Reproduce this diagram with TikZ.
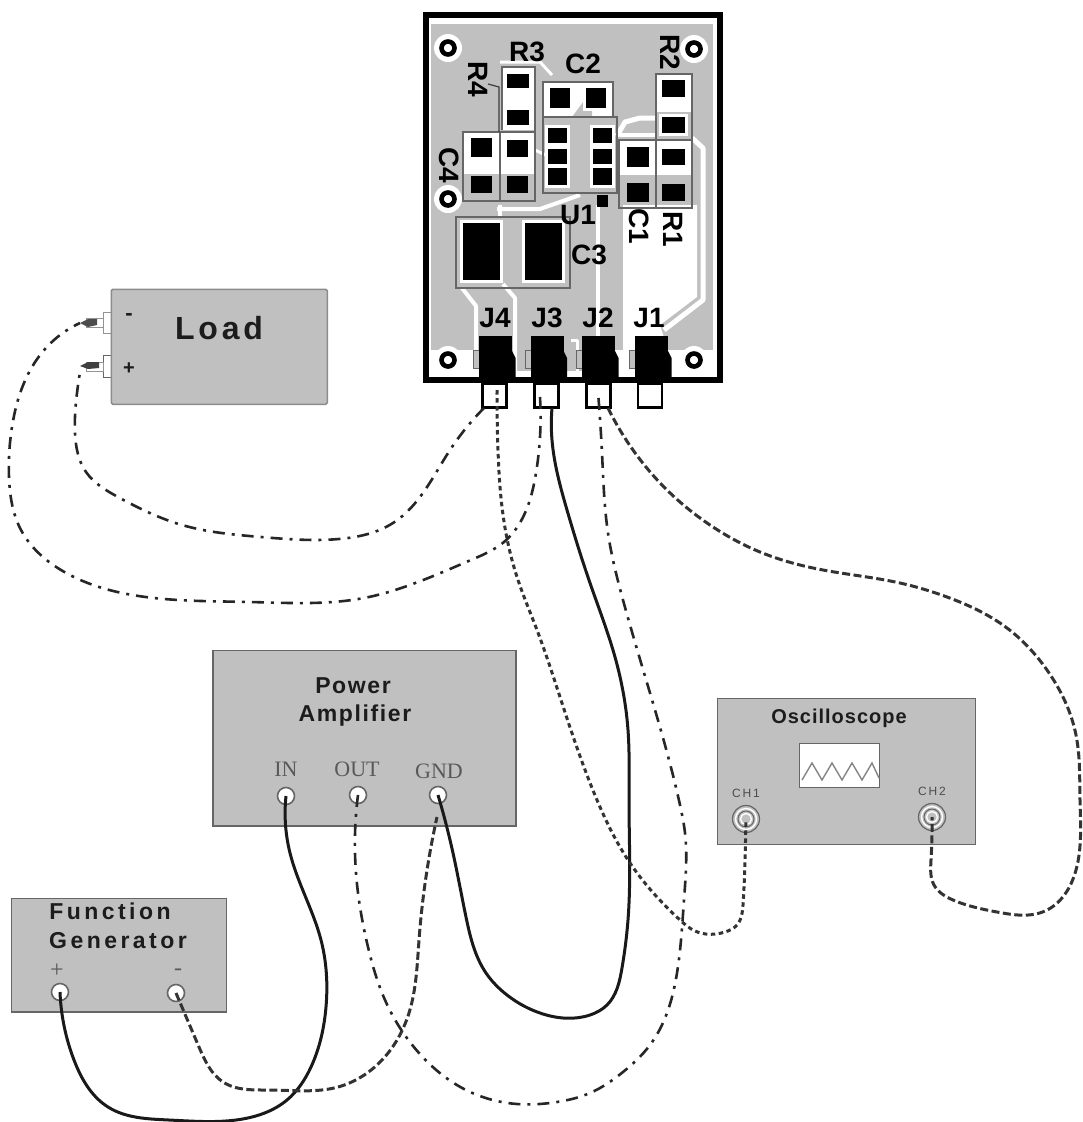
\documentclass[tikz,border=0pt]{standalone}
\usepackage{fontspec}
\usetikzlibrary{hobby}
\setmainfont{Liberation Sans}
\newfontfamily\serifl{Liberation Serif}
\newfontfamily\spaceA[LetterSpace=12]{Liberation Sans}
\newfontfamily\spaceB[LetterSpace=7]{Liberation Sans}
\newfontfamily\spaceC[LetterSpace=15]{Liberation Sans}
\newfontfamily\spaceD[LetterSpace=5]{Liberation Sans}
\newcommand{\fsz}[1]{\fontsize{#1}{#1}\selectfont}
\definecolor{panel}{HTML}{C0C0C0}
\definecolor{edge}{HTML}{666666}
\definecolor{ink}{HTML}{1C1C1C}
\newcommand{\mypad}[4]{\fill[white] (#1-3,#3-3) rectangle (#2+3,#4+3); \fill[black] (#1,#3) rectangle (#2,#4);}
\newcommand{\barepad}[4]{\fill[black] (#1,#3) rectangle (#2,#4);}
\tikzset{
  panelbox/.style={draw=edge,fill=panel,line width=1.6pt,inner sep=0pt,anchor=north west},
  jackdot/.style={circle,draw=edge,fill=white,line width=1.6pt,minimum size=17pt,inner sep=0pt},
  scopejack/.style={circle,draw=edge,fill=panel,line width=1.2pt,minimum size=27pt,inner sep=0pt},
  plugbox/.style={draw=black,fill=white,line width=2.2pt,minimum width=24pt,minimum height=24pt,inner sep=0pt},
  bodybox/.style={fill=black,minimum width=33pt,minimum height=46pt,inner sep=0pt},
  outline/.style={draw=edge,line width=1.3pt},
  trace/.style={draw=white,line width=5pt,line join=round},
  silk/.style={font=\fsz{28}\bfseries,text=black,inner sep=0pt},
  title/.style={text=ink,inner sep=0pt,align=center},
  serifport/.style={font=\serifl\fsz{22},text=black!65,inner sep=0pt},
  solidwire/.style={draw=black!90,line width=3pt,use Hobby shortcut},
  dashwire/.style={draw=black!80,line width=3pt,dash pattern=on 8pt off 3.5pt,use Hobby shortcut},
  dotwire/.style={draw=black!80,line width=3pt,dash pattern=on 4.5pt off 3.5pt,use Hobby shortcut},
  dashdot/.style={draw=black!85,line width=2.6pt,dash pattern=on 12pt off 7pt on 3pt off 7pt,use Hobby shortcut},
}
\begin{document}
\begin{tikzpicture}[x=1pt,y=-1pt]
\useasboundingbox (0,0) rectangle (1082,1122);
% ---------- board ----------
\fill[white] (424,13) rectangle (721,381);
\fill[panel] (431,22) rectangle (714,350);
\fill[panel] (512,350) rectangle (582,371);
\draw[trace,line width=3pt] (431,22) -- (714,22) -- (714,371);
% large white copper region
\fill[white] (623,205) -- (697,205) -- (697,297) -- (660,325) -- (668,350) -- (623,350) -- cycle;
\draw[trace,line width=4pt] (598,205) -- (598,340);
\draw[trace] (617,136) -- (625,122) -- (640,118) -- (656,118);
\draw[trace] (692,138) -- (703,148) -- (703,300) -- (664,330);
\draw[trace,line width=4pt] (620,135) -- (656,135);
\draw[trace,line width=4pt] (462,288) -- (476,306) -- (476,350);
\draw[trace,line width=4pt] (503,284) -- (515,298) -- (515,375);
\draw[trace,line width=3pt] (571,340) -- (577,340) -- (577,375);
\draw[trace,line width=4pt] (500,205) -- (500,217);
\draw[trace,line width=4pt] (497,209) -- (540,209) -- (580,195);
\draw[trace,line width=3pt] (535,150) -- (548,156);
\draw[trace,line width=3pt] (500,62) -- (540,62) -- (552,75);
% mounting hole halos
\foreach \hx/\hy in {448/48,694/49,448/199,448/360,694/360}{
  \fill[white] (\hx,\hy) circle[radius=14pt];
}
% component areas
\fill[white] (502,67) rectangle (535,130);
\fill[white] (543,82) rectangle (613,117);
\fill[panel] (572,117) -- (592,90) -- (592,117) -- cycle;
\fill[white] (463,132) rectangle (535,174);
\fill[white] (656,74) rectangle (692,112);
\fill[white] (619,140) rectangle (692,175);
% outlines
\draw[outline] (502,130) -- (502,67) -- (535,67) -- (535,201);
\draw[outline] (463,132) rectangle (500,201);
\draw[outline] (500,132) rectangle (535,201);
\draw[outline] (543,117) -- (543,82) -- (613,82) -- (613,117);
\draw[outline] (543,117) rectangle (617,193);
\draw[outline] (656,74) rectangle (692,140);
\draw[outline] (619,140) rectangle (656,208);
\draw[outline] (656,140) rectangle (692,208);
\draw[outline] (456,217) rectangle (570,288);
% leader for R4
\draw[line width=1.2pt,edge!60!black] (488,84) -- (499,87) -- (499,132);
% pads
\mypad{507}{529}{74}{88}
\mypad{507}{529}{110}{125}
\mypad{550}{570}{88}{108}
\mypad{586}{606}{88}{108}
\mypad{548}{567}{128}{143}
\mypad{548}{567}{149}{164}
\mypad{548}{567}{168}{185}
\mypad{593}{612}{128}{143}
\mypad{593}{612}{149}{164}
\mypad{593}{612}{168}{185}
\barepad{597}{608}{195}{207}
\mypad{471}{492}{138}{157}
\barepad{471}{492}{176}{193}
\mypad{507}{528}{140}{157}
\barepad{507}{528}{176}{193}
\mypad{662}{685}{80}{97}
\mypad{662}{685}{117}{133}
\mypad{662}{685}{149}{165}
\barepad{662}{685}{184}{201}
\mypad{627}{649}{147}{167}
\barepad{627}{649}{183}{202}
\mypad{463}{500}{223}{280}
\mypad{525}{562}{223}{280}
% mounting holes
\foreach \hx/\hy in {448/48,694/49,448/199,448/360,694/360}{
  \draw[black,line width=4.6pt,fill=white] (\hx,\hy) circle[radius=6.5pt];
}
% silk labels
\node[silk] (lR3) at (527,52) {R3};
\node[silk] (lC2) at (583,64) {C2};
\node[silk,rotate=-90] (lR2) at (670,52) {R2};
\node[silk,rotate=-90] (lR4) at (478,79) {R4};
\node[silk,rotate=-90] (lC4) at (449,165) {C4};
\node[silk] (lU1) at (578,215) {U1};
\node[silk,rotate=-90] (lC1) at (639,226) {C1};
\node[silk,rotate=-90] (lR1) at (673,229) {R1};
\node[silk] (lC3) at (589,255) {C3};
\node[silk] (lJ4) at (495,318) {J4};
\node[silk] (lJ3) at (547,318) {J3};
\node[silk] (lJ2) at (598,318) {J2};
\node[silk] (lJ1) at (649,318) {J1};
% board border
\draw[black,line width=5.5pt] (426,15) rectangle (720,380);
% connectors
\foreach \cx/\nm in {495.5/J4,547/J3,598.5/J2,651.5/J1}{
  \fill[panel,draw=edge,line width=1pt] (\cx-22,350) rectangle (\cx-16,368);
  \node[bodybox] (\nm b) at (\cx,359) {};
  \fill[black] (\cx+16,350) -- (\cx+20,358) -- (\cx+20,378) -- (\cx-16,378) -- cycle;
}
\node[plugbox] (J4p) at (494.5,395.5) {};
\node[plugbox] (J3p) at (546.5,395.5) {};
\node[plugbox] (J2p) at (598.5,395.5) {};
\node[plugbox] (J1p) at (650,395.5) {};
% ---------- load ----------
\fill[white,draw=edge!70,line width=1pt] (103,312) rectangle (112,333);
\fill[white,draw=edge,line width=1pt] (103,355) rectangle (112,377);
\node[panelbox,draw=black!45,rounded corners=1.5pt,minimum width=216pt,minimum height=115pt] (load) at (110.5,288.5) {};
\fill[white,draw=edge!70,line width=.6pt] (86,318) rectangle (103,327);
\fill[white,draw=edge!70,line width=.6pt] (86,362) rectangle (103,371);
\fill[black!70] (88,319) -- (80,323) -- (88,327) -- (97,325) -- (97,319) -- cycle;
\fill[black!75] (88,362) -- (80,366) -- (88,369) -- (99,368) -- (99,362) -- cycle;
\coordinate (pinM) at (80,323);
\coordinate (pinP) at (80,372);
\node[title,font=\spaceA\fsz{32}\bfseries] (loadt) at (219,328) {Load};
\node[title,font=\fsz{22}\bfseries] (loadm) at (129,317) {-};
\node[title,font=\fsz{20}\bfseries] (loadp) at (129,369) {+};
% ---------- amplifier ----------
\node[panelbox,minimum width=303pt,minimum height=175.5pt] (amp) at (212,649.5) {};
\node[title,font=\spaceB\fsz{23}\bfseries] (ampa) at (353,686) {Power};
\node[title,font=\spaceB\fsz{23}\bfseries] (ampb) at (355,716) {Amplifier};
\node[serifport] (tIN) at (286,769) {IN};
\node[serifport] (tOUT) at (357,769) {OUT};
\node[serifport] (tGND) at (439,771) {GND};
\node[jackdot] (IN) at (286,796) {};
\node[jackdot] (OUT) at (358,795) {};
\node[jackdot] (GND) at (438,795) {};
% ---------- function generator ----------
\node[panelbox,minimum width=215pt,minimum height=113.5pt] (fg) at (10.5,897.5) {};
\node[title,font=\spaceC\fsz{23}\bfseries] (fga) at (110,911) {Function};
\node[title,font=\spaceC\fsz{23}\bfseries] (fgb) at (118,941) {Generator};
\node[serifport,font=\serifl\fsz{24}] (tP) at (57,971) {+};
\node[serifport,font=\serifl\fsz{24}] (tM) at (178,972) {-};
\node[jackdot] (FGP) at (60,992) {};
\node[jackdot] (FGM) at (176,993) {};
% ---------- oscilloscope ----------
\node[panelbox,minimum width=258pt,minimum height=146pt] (osc) at (716.5,697.5) {};
\node[title,font=\spaceD\fsz{20}\bfseries] (osct) at (839,718) {Oscilloscope};
\node[draw=edge,fill=white,line width=1.8pt,minimum width=80pt,minimum height=44pt,inner sep=0pt,anchor=north west] (scr) at (798.5,742.5) {};
\draw[edge!80,line width=1.4pt] (802,780) -- (812,763) -- (822,780) -- (832,763) -- (842,780) -- (852,763) -- (862,780) -- (872,763) -- (879,778);
\node[title,font=\spaceC\fsz{12},text=black!70] (tC1) at (746,793) {CH1};
\node[title,font=\spaceC\fsz{12},text=black!70] (tC2) at (932,791) {CH2};
\node[scopejack] (CH1) at (746,819) {};
\node[scopejack] (CH2) at (932,817) {};
\foreach \jk in {CH1,CH2}{
  \draw[white,line width=1.4pt] (\jk.center) circle[radius=10.5pt];
  \draw[edge,line width=1pt] (\jk.center) circle[radius=8pt];
  \draw[white,line width=1.4pt] (\jk.center) circle[radius=5.5pt];
}
% ---------- wires ----------
\coordinate (J4w) at (497,390);
\coordinate (J4l) at (484,408);
\coordinate (J3l) at (540,397);
\coordinate (J3s) at (552,408);
\coordinate (J2d) at (598,392);
\coordinate (J2r) at (608,408);
\draw[solidwire] (IN.center) .. (290,853) .. (321,940) .. (326,1007) .. (311,1067) .. (287,1100) .. (236,1120) .. (169,1120) .. (108,1107) .. (74,1060) .. (FGP.center);
\draw[dashwire] (FGM.center) .. (199,1047) .. (223,1082) .. (270,1090) .. (338,1087) .. (382,1060) .. (409,1013) .. (419,940) .. (437,817);
\draw[solidwire] (GND.center) .. (453,853) .. (466,917) .. (486,973) .. (507,995) .. (543,1014) .. (590,1015) .. (607,1005) .. (622,968) .. (628,920) .. (629,800) .. (628,730) .. (615,657) .. (590,583) .. (567,510) .. (552,440) .. (J3s);
\draw[dotwire] (J4w) .. (498,450) .. (502,507) .. (517,577) .. (537,630) .. (560,697) .. (597,800) .. (628,860) .. (680,920) .. (695,931) .. (725,932) .. (737,925) .. (743,905) .. (745,860) .. (CH1.center);
\draw[dashwire] (J2r) .. (633,450) .. (667,490) .. (710,525) .. (760,552) .. (823,570) .. (900,583) .. (947,597) .. (1007,628) .. (1047,670) .. (1076,735) .. (1080,800) .. (1076,870) .. (1045,911) .. (997,912) .. (953,900) .. (934,885) .. (931,860) .. (CH2.center);
\draw[dashdot] (OUT.center) .. (356,873) .. (368,947) .. (385,1000) .. (419,1053) .. (466,1090) .. (517,1104) .. (557,1102) .. (590,1093) .. (623,1072) .. (650,1045) .. (667,1013) .. (677,973) .. (684,900) .. (685,833) .. (680,805) .. (650,693) .. (623,600) .. (608,533) .. (602,453) .. (J2d);
\draw[dashdot] (J4l) .. (450,450) .. (420,497) .. (393,523) .. (339,539) .. (261,537) .. (182,525) .. (118,497) .. (86,472) .. (75,433) .. (77,393) .. (pinP);
\draw[dashdot] (J3l) .. (536,473) .. (525,513) .. (504,542) .. (471,560) .. (418,582) .. (364,598) .. (250,602) .. (154,598) .. (61,570) .. (21,530) .. (9,477) .. (12,427) .. (32,367) .. (54,340) .. (pinM);
\end{tikzpicture}
\end{document}
